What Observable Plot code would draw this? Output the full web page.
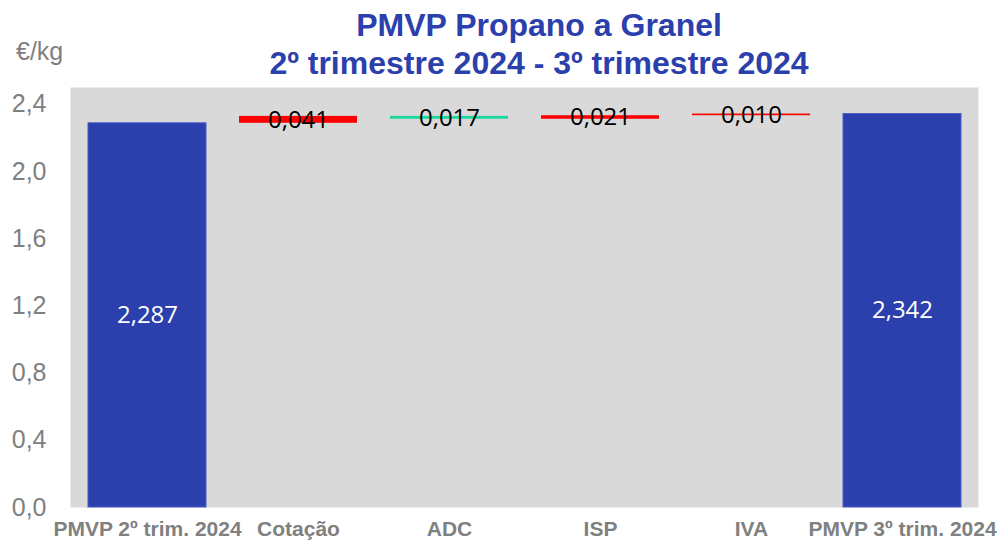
<!DOCTYPE html>
<html>
<head>
<meta charset="utf-8">
<script src="https://cdn.jsdelivr.net/npm/d3@7"></script>
<script src="https://cdn.jsdelivr.net/npm/@observablehq/plot@0.6"></script>
<style>
  html, body { margin: 0; padding: 0; background: #fff; }
  #wrap { position: relative; width: 1001px; height: 542px; overflow: hidden; font-family: "Liberation Sans", Arial, sans-serif; }
  #title { position: absolute; left: 0; width: 1078px; top: 6px; text-align: center; color: #2B40AD; font-weight: bold; font-size: 32px; line-height: 38px; }
  #unit { position: absolute; left: 16px; top: 37px; color: #808080; font-size: 25px; }
  #chart { position: absolute; left: 0; top: 0; }
</style>
</head>
<body>
<div id="wrap">
  <div id="chart"></div>
  <div id="title">PMVP Propano a Granel<br>2º trimestre 2024 - 3º trimestre 2024</div>
  <div id="unit">€/kg</div>
</div>
<script>
const categories = ["PMVP 2º trim. 2024", "Cotação", "ADC", "ISP", "IVA", "PMVP 3º trim. 2024"];
const values = [2.287, 0.041, -0.017, 0.021, 0.010, 2.342];
const kinds = ["total", "up", "down", "up", "up", "total"];
const valueLabels = ["2,287", "0,041", "0,017", "0,021", "0,010", "2,342"];
const yTicks = [0, 0.4, 0.8, 1.2, 1.6, 2.0, 2.4];
const colors = {total: "#2B40AD", up: "#FF0000", down: "#1ED7A0"};

let running = 0;
const data = categories.map((c, i) => {
  let y1, y2;
  if (kinds[i] === "total") { y1 = 0; y2 = values[i]; running = values[i]; }
  else { y1 = running; y2 = running + values[i]; running = y2; }
  return {cat: c, y1, y2, mid: (y1 + y2) / 2, kind: kinds[i], label: valueLabels[i]};
});
const totals = data.filter(d => d.kind === "total");

const chart = Plot.plot({
  width: 1001,
  height: 542,
  marginLeft: 70,
  marginRight: 23,
  marginTop: 87,
  marginBottom: 35,
  style: {fontFamily: "'Liberation Sans', Arial, sans-serif", background: "transparent", overflow: "visible"},
  x: {domain: categories, paddingInner: 0.22, paddingOuter: 0.11, label: null},
  y: {domain: [0, 2.5], label: null},
  marks: [
    Plot.frame({fill: "#D9D9D9", stroke: "none"}),
    Plot.axisY({ticks: yTicks, tickSize: 0, tickPadding: 24, fontSize: 25, color: "#808080",
      tickFormat: d => d.toFixed(1).replace(".", ","), label: null}),
    Plot.axisX({tickSize: 0, tickPadding: 14, fontSize: 21, fontWeight: "bold", color: "#808080", label: null}),
    Plot.rectY(data, {x: "cat", y1: "y1", y2: "y2", fill: d => colors[d.kind]}),
    Plot.rectY(totals, {x: "cat", y1: "y1", y2: "y2", fill: "none", stroke: "#4A5FC8", strokeWidth: 1}),
    Plot.text(data, {x: "cat", y: "mid", text: "label", fill: d => d.kind === "total" ? "white" : "black",
      fontSize: 24, fontFamily: "'Open Sans', sans-serif"})
  ]
});
document.getElementById("chart").appendChild(chart);
</script>
</body>
</html>
